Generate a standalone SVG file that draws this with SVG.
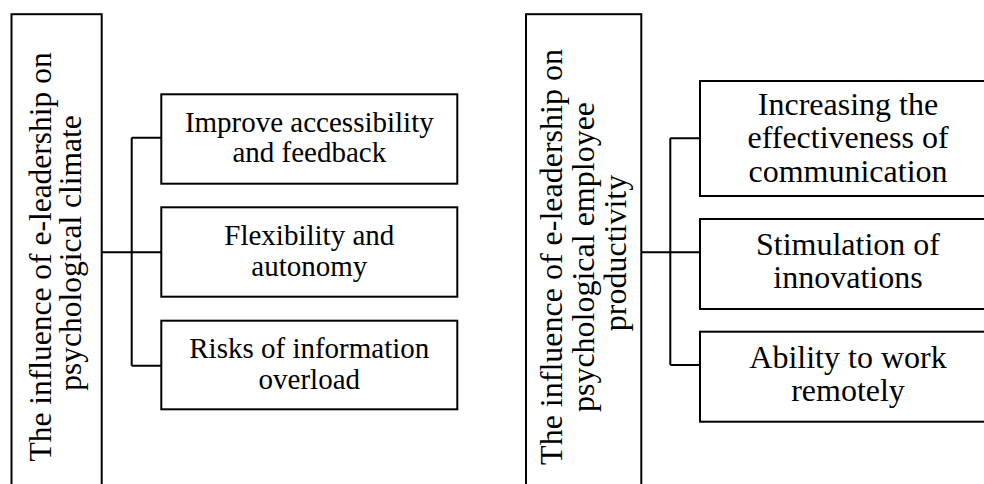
<svg xmlns="http://www.w3.org/2000/svg" width="984" height="484" viewBox="0 0 984 484">
  <style>
    .box { fill: #ffffff; stroke: #000000; stroke-width: 2; }
    .wire { fill: none; stroke: #000000; stroke-width: 2; }
    text { font-family: "Liberation Serif", "Times New Roman", serif; fill: #000000; text-anchor: middle; }
    .lt { font-size: 29px; }
    .rt { font-size: 32px; }
    .lv { font-size: 31.5px; }
    .rv { font-size: 32px; }
  </style>
  <rect width="984" height="484" fill="#ffffff"/>

  <!-- connectors -->
  <g id="connectors">
    <path class="wire" d="M101.7 252.3 H161.3 M131.7 137.7 V365.7 M131.7 137.7 H161.3 M131.7 365.7 H161.3"/>
    <path class="wire" d="M641.3 252.3 H700 M670.3 138.3 V365 M670.3 138.3 H700 M670.3 365 H700"/>
  </g>

  <!-- left diagram -->
  <g id="climate">
    <rect class="box" x="11.5" y="14.2" width="90.2" height="490"/>
    <text class="lv" transform="translate(51,253) rotate(-90)">
      <tspan x="0" y="0">The influence of e-leadership on</tspan>
      <tspan x="0" y="30">psychological climate</tspan>
    </text>
  </g>
  <g id="accessibility">
    <rect class="box" x="161.3" y="94.3" width="296" height="89.4"/>
    <text class="lt"><tspan x="309.3" y="131.7">Improve accessibility</tspan><tspan x="309.3" y="162.3">and feedback</tspan></text>
  </g>
  <g id="flexibility">
    <rect class="box" x="161.3" y="207.3" width="296" height="89.4"/>
    <text class="lt"><tspan x="309.3" y="245">Flexibility and</tspan><tspan x="309.3" y="275.5">autonomy</tspan></text>
  </g>
  <g id="overload">
    <rect class="box" x="161.3" y="320.7" width="296" height="88.6"/>
    <text class="lt"><tspan x="309.3" y="358">Risks of information</tspan><tspan x="309.3" y="388.5">overload</tspan></text>
  </g>

  <!-- right diagram -->
  <g id="productivity">
    <rect class="box" x="526" y="14.2" width="115.3" height="490"/>
    <text class="rv" transform="translate(562,253) rotate(-90)">
      <tspan x="0" y="0">The influence of e-leadership on</tspan>
      <tspan x="0" y="32">psychological employee</tspan>
      <tspan x="0" y="64">productivity</tspan>
    </text>
  </g>
  <g id="communication">
    <rect class="box" x="700" y="81" width="296" height="115"/>
    <text class="rt"><tspan x="848" y="115">Increasing the</tspan><tspan x="848" y="148.3">effectiveness of</tspan><tspan x="848" y="181.7">communication</tspan></text>
  </g>
  <g id="innovations">
    <rect class="box" x="700" y="219" width="296" height="90"/>
    <text class="rt"><tspan x="848" y="255">Stimulation of</tspan><tspan x="848" y="288.3">innovations</tspan></text>
  </g>
  <g id="remote">
    <rect class="box" x="700" y="331.7" width="296" height="90"/>
    <text class="rt"><tspan x="848" y="368">Ability to work</tspan><tspan x="848" y="401.3">remotely</tspan></text>
  </g>
</svg>
